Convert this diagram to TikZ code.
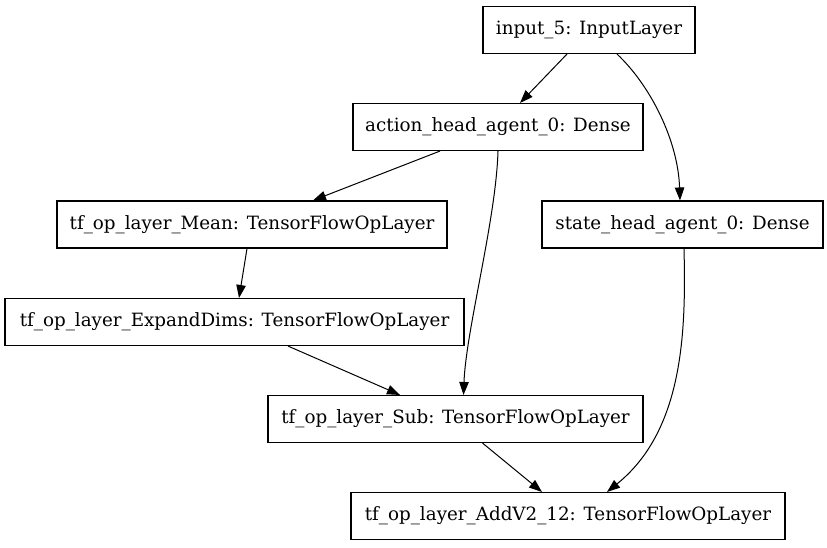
\documentclass[tikz,border=0pt]{standalone}
\usepackage{fontspec}
\setmainfont{DejaVu Serif}
\usetikzlibrary{arrows.meta}
\begin{document}
\begin{tikzpicture}[x=1pt,y=-1pt,
  layer/.style={draw=black,line width=1.1pt,minimum height=47pt,inner sep=0pt,
    font=\fontsize{18.3}{21}\selectfont,fill=white},
  edge/.style={line width=1pt,-{Triangle[length=13pt,width=9.5pt]}}]
\fill[white] (0,0) rectangle (827,547);
\useasboundingbox (0,0) rectangle (827,547);
\node[layer,minimum width=212pt] (in) at (589,30) {input\_5: InputLayer};
\node[layer,minimum width=290pt] (act) at (498,127) {action\_head\_agent\_0: Dense};
\node[layer,minimum width=281pt] (st) at (682.5,224.5) {state\_head\_agent\_0: Dense};
\node[layer,minimum width=390pt] (mean) at (252,224.5) {tf\_op\_layer\_Mean: TensorFlowOpLayer};
\node[layer,minimum width=459pt] (exp) at (234.5,322) {tf\_op\_layer\_ExpandDims: TensorFlowOpLayer};
\node[layer,minimum width=375pt] (sub) at (455.5,419) {tf\_op\_layer\_Sub: TensorFlowOpLayer};
\node[layer,minimum width=434pt] (add) at (568,516) {tf\_op\_layer\_AddV2\_12: TensorFlowOpLayer};
\draw[edge] ([xshift=-22pt]in.south) -- ([xshift=22pt]act.north);
\draw[edge] ([xshift=28pt]in.south) .. controls (650,85) and (678,140) .. ([xshift=-2.5pt]st.north);
\draw[edge] ([xshift=-58pt]act.south) -- ([xshift=61pt]mean.north);
\draw[edge] (act.south) .. controls (496,220) and (466,330) .. ([xshift=8pt]sub.north);
\draw[edge] ([xshift=-5pt]mean.south) -- ([xshift=4.5pt]exp.north);
\draw[edge] ([xshift=53.5pt]exp.south) -- ([xshift=-55.5pt]sub.north);
\draw[edge] ([xshift=27pt]sub.south) -- ([xshift=-26pt]add.north);
\draw[edge] ([xshift=1.5pt]st.south) .. controls (686,330) and (684,430) .. ([xshift=39pt]add.north);
\end{tikzpicture}
\end{document}
